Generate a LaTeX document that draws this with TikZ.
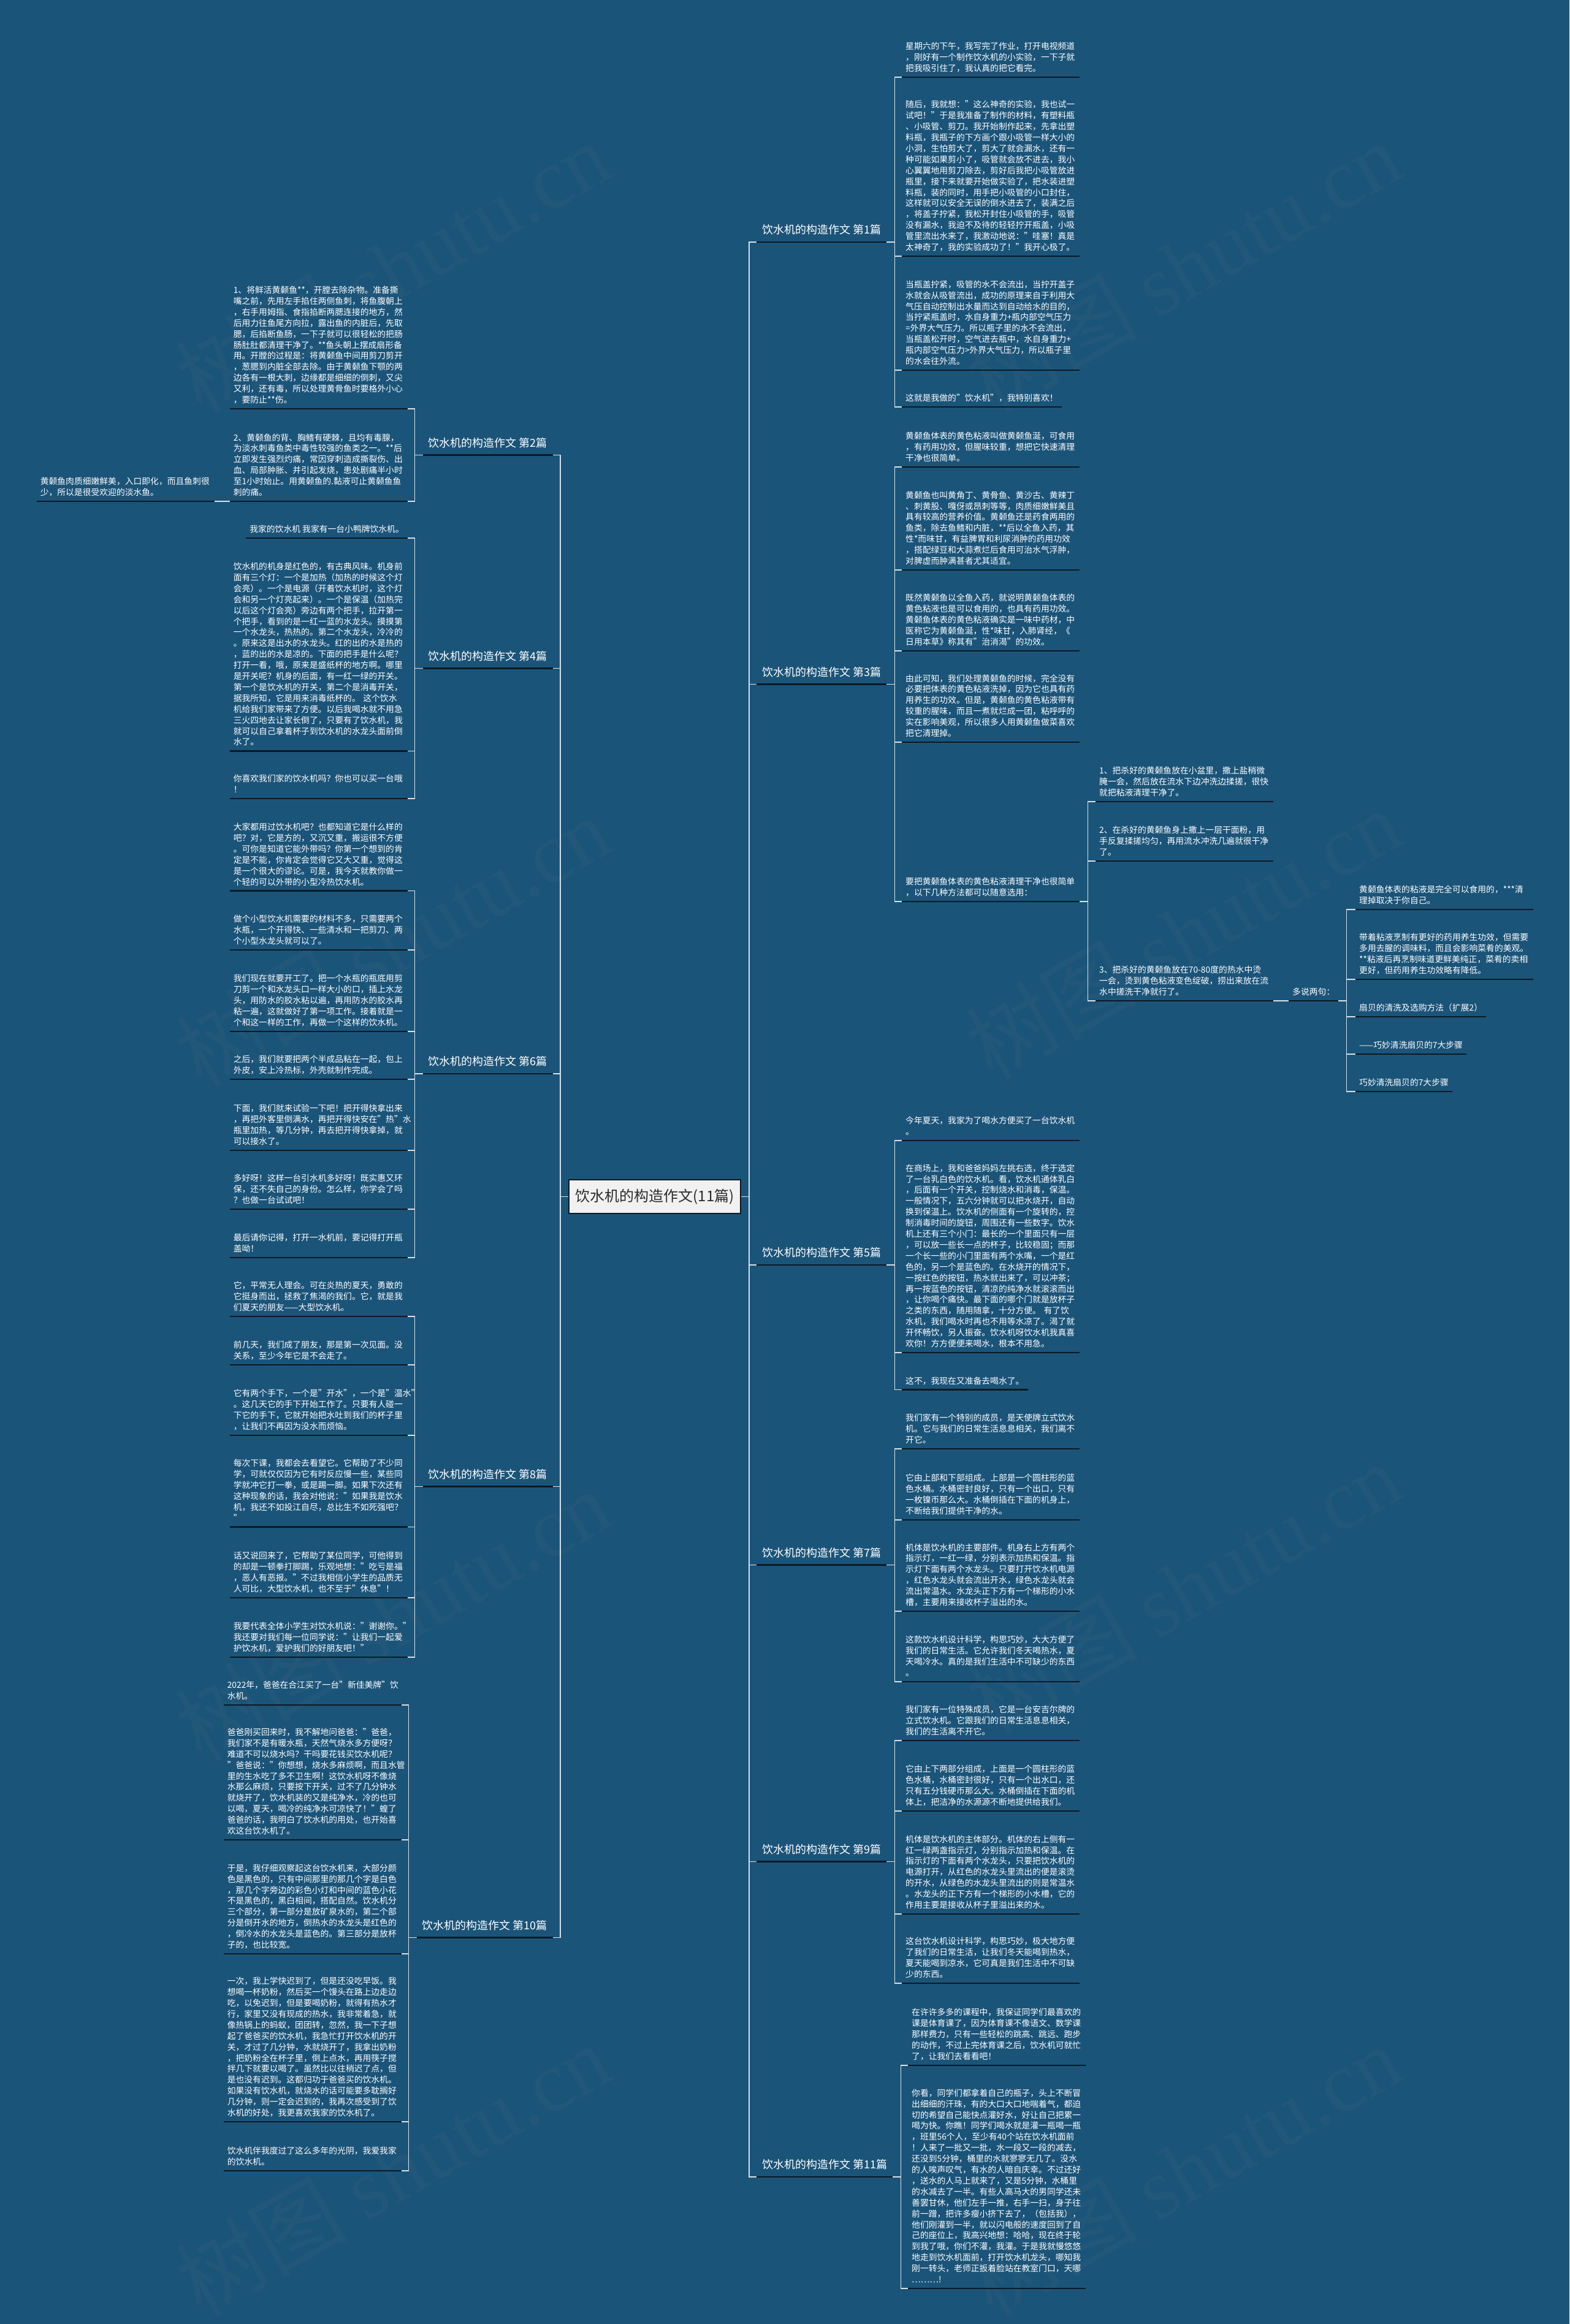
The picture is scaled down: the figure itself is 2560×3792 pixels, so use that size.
\documentclass[tikz,border=0pt]{standalone}
\usepackage{fontspec}
\setmainfont{Noto Sans CJK SC}
\newfontfamily\wmlatin{Liberation Serif}
\definecolor{bgc}{HTML}{1B5479}
\definecolor{connc}{HTML}{D5E1E9}
\definecolor{ulc}{HTML}{0B1A24}
\definecolor{titlefill}{HTML}{F1F1F1}
\definecolor{titletext}{HTML}{2B2B2B}
\newcommand\leaffont{\fontsize{13.8}{17.9}\selectfont}
\newcommand\labfont{\fontsize{18}{22}\selectfont}
\newcommand\titfont{\fontsize{24}{28}\selectfont}
\tikzset{
  leafbase/.style={inner xsep=6pt, inner ysep=3.9pt, font=\leaffont, text=white, execute at end node=\strut},
  leafR/.style={leafbase, anchor=south west, text width=278pt, align=left},
  leafRs/.style={leafbase, anchor=south west},
  leafL/.style={leafbase, anchor=south east, text width=278pt, align=left},
  leafLs/.style={leafbase, anchor=south east},
  labR/.style={inner xsep=9pt, inner ysep=6.56pt, font=\labfont, text=white, execute at end node=\strut, anchor=south west},
  labL/.style={labR, anchor=south east},
  titlebox/.style={draw=ulc, line width=1.6pt, fill=titlefill, text=titletext, font=\titfont, minimum width=280pt, minimum height=55pt, inner sep=0pt},
  conn/.style={draw=connc, line width=1.8pt},
  ulline/.style={draw=ulc, line width=2.6pt},
  wm/.style={font=\fontsize{140}{150}\selectfont, text=gray, opacity=0.08, rotate=30},
}
\begin{document}
\begin{tikzpicture}[x=1pt,y=-1pt]
\fill[bgc] (0,0) rectangle (2560,3792);
\useasboundingbox (0,0) rectangle (2560,3792);

% watermarks
\node[wm] (w1) at (640,435) {树图 {\wmlatin shutu.cn}};
\node[wm] (w2) at (1930,435) {树图 {\wmlatin shutu.cn}};
\node[wm] (w3) at (640,1535) {树图 {\wmlatin shutu.cn}};
\node[wm] (w4) at (1930,1523) {树图 {\wmlatin shutu.cn}};
\node[wm] (w5) at (640,2635) {树图 {\wmlatin shutu.cn}};
\node[wm] (w6) at (1930,2590) {树图 {\wmlatin shutu.cn}};
\node[wm] (w7) at (640,3540) {树图 {\wmlatin shutu.cn}};
\node[wm] (w8) at (1930,3540) {树图 {\wmlatin shutu.cn}};

% title
\node[titlebox] (T) at (1068,1952.5) {饮水机的构造作文(11篇)};

% right labels
\node[labR] (R1) at (1234,395) {饮水机的构造作文 第1篇};
\node[labR] (R3) at (1234,1116.5) {饮水机的构造作文 第3篇};
\node[labR] (R5) at (1234,2064) {饮水机的构造作文 第5篇};
\node[labR] (R7) at (1234,2553.5) {饮水机的构造作文 第7篇};
\node[labR] (R9) at (1234,3037.5) {饮水机的构造作文 第9篇};
\node[labR] (R11) at (1234,3552) {饮水机的构造作文 第11篇};
% left labels
\node[labL] (L2) at (902,742.5) {饮水机的构造作文 第2篇};
\node[labL] (L4) at (902,1090.5) {饮水机的构造作文 第4篇};
\node[labL] (L6) at (902,1752) {饮水机的构造作文 第6篇};
\node[labL] (L8) at (902,2425.5) {饮水机的构造作文 第8篇};
\node[labL] (L10) at (902,3161.5) {饮水机的构造作文 第10篇};

% ---- right leaves: 第1篇
\node[leafR] (r1a) at (1471,126) {星期六的下午，我写完了作业，打开电视频道\\，刚好有一个制作饮水机的小实验，一下子就\\把我吸引住了，我认真的把它看完。};
\node[leafR] (r1b) at (1471,418) {随后，我就想："这么神奇的实验，我也试一\\试吧！"于是我准备了制作的材料，有塑料瓶\\、小吸管、剪刀。我开始制作起来，先拿出塑\\料瓶，我瓶子的下方画个跟小吸管一样大小的\\小洞，生怕剪大了，剪大了就会漏水，还有一\\种可能如果剪小了，吸管就会放不进去，我小\\心翼翼地用剪刀除去，剪好后我把小吸管放进\\瓶里，接下来就要开始做实验了，把水装进塑\\料瓶，装的同时，用手把小吸管的小口封住，\\这样就可以安全无误的倒水进去了，装满之后\\，将盖子拧紧，我松开封住小吸管的手，吸管\\没有漏水，我迫不及待的轻轻拧开瓶盖，小吸\\管里流出水来了，我激动地说："哇塞！真是\\太神奇了，我的实验成功了！"我开心极了。};
\node[leafR] (r1c) at (1471,604) {当瓶盖拧紧，吸管的水不会流出，当拧开盖子\\水就会从吸管流出，成功的原理来自于利用大\\气压自动控制出水量而达到自动给水的目的，\\当拧紧瓶盖时，水自身重力+瓶内部空气压力\\{}=外界大气压力。所以瓶子里的水不会流出，\\当瓶盖松开时，空气进去瓶中，水自身重力+\\瓶内部空气压力>外界大气压力，所以瓶子里\\的水会往外流。};
\node[leafRs] (r1d) at (1471,664) {这就是我做的"饮水机"，我特别喜欢！};

% ---- 第3篇
\node[leafR] (r3a) at (1471,762) {黄颡鱼体表的黄色粘液叫做黄颡鱼涎，可食用\\，有药用功效，但腥味较重，想把它快速清理\\干净也很简单。};
\node[leafR] (r3b) at (1471,930) {黄颡鱼也叫黄角丁、黄骨鱼、黄沙古、黄辣丁\\、刺黄股、嘎伢或昂刺等等，肉质细嫩鲜美且\\具有较高的营养价值。黄颡鱼还是药食两用的\\鱼类，除去鱼鳍和内脏，**后以全鱼入药，其\\性*而味甘，有益脾胃和利尿消肿的药用功效\\，搭配绿豆和大蒜煮烂后食用可治水气浮肿，\\对脾虚而肿满甚者尤其适宜。};
\node[leafR] (r3c) at (1471,1062) {既然黄颡鱼以全鱼入药，就说明黄颡鱼体表的\\黄色粘液也是可以食用的，也具有药用功效。\\黄颡鱼体表的黄色粘液确实是一味中药材，中\\医称它为黄颡鱼涎，性*味甘，入肺肾经，《\\日用本草》称其有"治消渴"的功效。};
\node[leafR] (r3d) at (1471,1211) {由此可知，我们处理黄颡鱼的时候，完全没有\\必要把体表的黄色粘液洗掉，因为它也具有药\\用养生的功效。但是，黄颡鱼的黄色粘液带有\\较重的腥味，而且一煮就烂成一团，粘呼呼的\\实在影响美观，所以很多人用黄颡鱼做菜喜欢\\把它清理掉。};
\node[leafR] (r3e) at (1471,1471) {要把黄颡鱼体表的黄色粘液清理干净也很简单\\，以下几种方法都可以随意选用：};
\node[leafR] (s1) at (1787,1308) {1、把杀好的黄颡鱼放在小盆里，撒上盐稍微\\腌一会，然后放在流水下边冲洗边揉搓，很快\\就把粘液清理干净了。};
\node[leafR] (s2) at (1787,1405) {2、在杀好的黄颡鱼身上撒上一层干面粉，用\\手反复揉搓均匀，再用流水冲洗几遍就很干净\\了。};
\node[leafR] (s3) at (1787,1633) {3、把杀好的黄颡鱼放在70-80度的热水中烫\\一会，烫到黄色粘液变色绽破，捞出来放在流\\水中搓洗干净就行了。};
\node[leafRs] (ds) at (2102,1633) {多说两句：};
\node[leafR] (d1) at (2211,1484) {黄颡鱼体表的粘液是完全可以食用的，***清\\理掉取决于你自己。};
\node[leafR] (d2) at (2211,1598) {带着粘液烹制有更好的药用养生功效，但需要\\多用去腥的调味料，而且会影响菜肴的美观。\\{}**粘液后再烹制味道更鲜美纯正，菜肴的卖相\\更好，但药用养生功效略有降低。};
\node[leafRs] (d3) at (2211,1659) {扇贝的清洗及选购方法（扩展2）};
\node[leafRs] (d4) at (2211,1720) {——巧妙清洗扇贝的7大步骤};
\node[leafRs] (d5) at (2211,1781) {巧妙清洗扇贝的7大步骤};

% ---- 第5篇
\node[leafR] (r5a) at (1471,1861) {今年夏天，我家为了喝水方便买了一台饮水机\\。};
\node[leafR] (r5b) at (1471,2207) {在商场上，我和爸爸妈妈左挑右选，终于选定\\了一台乳白色的饮水机。看，饮水机通体乳白\\，后面有一个开关，控制烧水和消毒，保温。\\一般情况下，五六分钟就可以把水烧开，自动\\换到保温上。饮水机的侧面有一个旋转的，控\\制消毒时间的旋钮，周围还有一些数字。饮水\\机上还有三个小门：最长的一个里面只有一层\\，可以放一些长一点的杯子，比较稳固；而那\\一个长一些的小门里面有两个水嘴，一个是红\\色的，另一个是蓝色的。在水烧开的情况下，\\一按红色的按钮，热水就出来了，可以冲茶；\\再一按蓝色的按钮，清凉的纯净水就滚滚而出\\，让你喝个痛快。最下面的哪个门就是放杯子\\之类的东西，随用随拿，十分方便。 有了饮\\水机，我们喝水时再也不用等水凉了。渴了就\\开怀畅饮，另人振奋。饮水机呀饮水机我真喜\\欢你！方方便便来喝水，根本不用急。};
\node[leafRs] (r5c) at (1471,2267.5) {这不，我现在又准备去喝水了。};

% ---- 第7篇
\node[leafR] (r7a) at (1471,2364) {我们家有一个特别的成员，是天使牌立式饮水\\机。它与我们的日常生活息息相关，我们离不\\开它。};
\node[leafR] (r7b) at (1471,2480) {它由上部和下部组成。上部是一个圆柱形的蓝\\色水桶。水桶密封良好，只有一个出口，只有\\一枚镍币那么大。水桶倒插在下面的机身上，\\不断给我们提供干净的水。};
\node[leafR] (r7c) at (1471,2629) {机体是饮水机的主要部件。机身右上方有两个\\指示灯，一红一绿，分别表示加热和保温。指\\示灯下面有两个水龙头。只要打开饮水机电源\\，红色水龙头就会流出开水，绿色水龙头就会\\流出常温水。水龙头正下方有一个梯形的小水\\槽，主要用来接收杯子溢出的水。};
\node[leafR] (r7d) at (1471,2744) {这款饮水机设计科学，构思巧妙，大大方便了\\我们的日常生活。它允许我们冬天喝热水，夏\\天喝冷水。真的是我们生活中不可缺少的东西\\。};

% ---- 第9篇
\node[leafR] (r9a) at (1471,2840) {我们家有一位特殊成员，它是一台安吉尔牌的\\立式饮水机。它跟我们的日常生活息息相关，\\我们的生活离不开它。};
\node[leafR] (r9b) at (1471,2955) {它由上下两部分组成，上面是一个圆柱形的蓝\\色水桶，水桶密封很好，只有一个出水口，还\\只有五分钱硬币那么大。水桶倒插在下面的机\\体上，把洁净的水源源不断地提供给我们。};
\node[leafR] (r9c) at (1471,3123) {机体是饮水机的主体部分。机体的右上侧有一\\红一绿两盏指示灯，分别指示加热和保温。在\\指示灯的下面有两个水龙头，只要把饮水机的\\电源打开，从红色的水龙头里流出的便是滚烫\\的开水，从绿色的水龙头里流出的则是常温水\\。水龙头的正下方有一个梯形的小水槽，它的\\作用主要是接收从杯子里溢出来的水。};
\node[leafR] (r9d) at (1471,3236) {这台饮水机设计科学，构思巧妙，极大地方便\\了我们的日常生活，让我们冬天能喝到热水，\\夏天能喝到凉水，它可真是我们生活中不可缺\\少的东西。};

% ---- 第11篇
\node[leafR] (r11a) at (1481,3370) {在许许多多的课程中，我保证同学们最喜欢的\\课是体育课了，因为体育课不像语文、数学课\\那样费力，只有一些轻松的跳高、跳远、跑步\\的动作，不过上完体育课之后，饮水机可就忙\\了，让我们去看看吧！};
\node[leafR] (r11b) at (1481,3734) {你看，同学们都拿着自己的瓶子，头上不断冒\\出细细的汗珠，有的大口大口地喘着气，都迫\\切的希望自己能快点灌好水，好让自己把累一\\喝为快。你瞧！同学们喝水就是灌一瓶喝一瓶\\，班里56个人，至少有40个站在饮水机面前\\！人来了一批又一批，水一段又一段的减去，\\还没到5分钟，桶里的水就寥寥无几了。没水\\的人唉声叹气，有水的人暗自庆幸。不过还好\\，送水的人马上就来了，又是5分钟，水桶里\\的水减去了一半。有些人高马大的男同学还未\\善罢甘休，他们左手一推，右手一扫，身子往\\前一蹭，把许多瘦小挤下去了，（包括我），\\他们刚灌到一半，就以闪电般的速度回到了自\\己的座位上，我高兴地想：哈哈，现在终于轮\\到我了哦，你们不灌，我灌。于是我就慢悠悠\\地走到饮水机面前，打开饮水机龙头，哪知我\\刚一转头，老师正扳着脸站在教室门口，天哪\\………!};

% ---- left leaves: 第2篇
\node[leafL] (l2a) at (665,667) {1、将鲜活黄颡鱼**，开膛去除杂物。准备撕\\嘴之前，先用左手掐住两侧鱼刺，将鱼腹朝上\\，右手用姆指、食指掐断两腮连接的地方，然\\后用力往鱼尾方向拉，露出鱼的内脏后，先取\\腮，后掐断鱼肠，一下子就可以很轻松的把肠\\肠肚肚都清理干净了。**鱼头朝上摆成扇形备\\用。开膛的过程是：将黄颡鱼中间用剪刀剪开\\，葱腮到内脏全部去除。由于黄颡鱼下颚的两\\边各有一根大刺，边缘都是细细的倒刺，又尖\\又利，还有毒，所以处理黄骨鱼时要格外小心\\，要防止**伤。};
\node[leafL] (l2b) at (665,818) {2、黄颡鱼的背、胸鳍有硬棘，且均有毒腺，\\为淡水刺毒鱼类中毒性较强的鱼类之一。**后\\立即发生强烈灼痛，常因穿刺造成撕裂伤、出\\血、局部肿胀、并引起发烧，患处剧痛半小时\\至1小时始止。用黄颡鱼的.黏液可止黄颡鱼鱼\\刺的痛。};
\node[leafL] (l2x) at (350,818) {黄颡鱼肉质细嫩鲜美，入口即化，而且鱼刺很\\少，所以是很受欢迎的淡水鱼。};

% ---- 第4篇
\node[leafLs] (l4a) at (665,878) {我家的饮水机 我家有一台小鸭牌饮水机。};
\node[leafL] (l4b) at (665,1225.4) {饮水机的机身是红色的，有古典风味。机身前\\面有三个灯：一个是加热（加热的时候这个灯\\会亮）。一个是电源（开着饮水机时，这个灯\\会和另一个灯亮起来）。一个是保温（加热完\\以后这个灯会亮）旁边有两个把手，拉开第一\\个把手，看到的是一红一蓝的水龙头。摸摸第\\一个水龙头，热热的。第二个水龙头，冷冷的\\。原来这是出水的水龙头。红的出的水是热的\\，蓝的出的水是凉的。下面的把手是什么呢？\\打开一看，哦，原来是盛纸杯的地方啊。哪里\\是开关呢？机身的后面，有一红一绿的开关。\\第一个是饮水机的开关，第二个是消毒开关，\\据我所知，它是用来消毒纸杯的。 这个饮水\\机给我们家带来了方便。以后我喝水就不用急\\三火四地去让家长倒了，只要有了饮水机，我\\就可以自己拿着杯子到饮水机的水龙头面前倒\\水了。};
\node[leafL] (l4c) at (665,1303) {你喜欢我们家的饮水机吗？你也可以买一台哦\\！};

% ---- 第6篇
\node[leafL] (l6a) at (665,1453.5) {大家都用过饮水机吧？也都知道它是什么样的\\吧？对，它是方的，又沉又重，搬运很不方便\\。可你是知道它能外带吗？你第一个想到的肯\\定是不能，你肯定会觉得它又大又重，觉得这\\是一个很大的谬论。可是，我今天就教你做一\\个轻的可以外带的小型冷热饮水机。};
\node[leafL] (l6b) at (665,1550) {做个小型饮水机需要的材料不多，只需要两个\\水瓶，一个开得快、一些清水和一把剪刀、两\\个小型水龙头就可以了。};
\node[leafL] (l6c) at (665,1683) {我们现在就要开工了。把一个水瓶的瓶底用剪\\刀剪一个和水龙头口一样大小的口，插上水龙\\头，用防水的胶水粘以遍，再用防水的胶水再\\粘一遍，这就做好了第一项工作。接着就是一\\个和这一样的工作，再做一个这样的饮水机。};
\node[leafL] (l6d) at (665,1761) {之后，我们就要把两个半成品粘在一起，包上\\外皮，安上冷热标，外壳就制作完成。};
\node[leafL] (l6e) at (665,1877) {下面，我们就来试验一下吧！把开得快拿出来\\，再把外客里倒满水，再把开得快安在"热"水\\瓶里加热，等几分钟，再去把开得快拿掉，就\\可以接水了。};
\node[leafL] (l6f) at (665,1973) {多好呀！这样一台引水机多好呀！既实惠又环\\保，还不失自己的身份。怎么样，你学会了吗\\？也做一台试试吧！};
\node[leafL] (l6g) at (665,2052) {最后请你记得，打开一水机前，要记得打开瓶\\盖呦！};

% ---- 第8篇
\node[leafL] (l8a) at (665,2148) {它，平常无人理会。可在炎热的夏天，勇敢的\\它挺身而出，拯救了焦渴的我们。它，就是我\\们夏天的朋友——大型饮水机。};
\node[leafL] (l8b) at (665,2227) {前几天，我们成了朋友，那是第一次见面。没\\关系，至少今年它是不会走了。};
\node[leafL] (l8c) at (665,2342) {它有两个手下，一个是"开水"，一个是"温水"\\。这几天它的手下开始工作了。只要有人碰一\\下它的手下，它就开始把水吐到我们的杯子里\\，让我们不再因为没水而烦恼。};
\node[leafL] (l8d) at (665,2491.5) {每次下课，我都会去看望它。它帮助了不少同\\学，可就仅仅因为它有时反应慢一些，某些同\\学就冲它打一拳，或是踢一脚。如果下次还有\\这种现象的话，我会对他说："如果我是饮水\\机，我还不如投江自尽，总比生不如死强吧？\\"};
\node[leafL] (l8e) at (665,2607) {话又说回来了，它帮助了某位同学，可他得到\\的却是一顿拳打脚踢，乐观地想："吃亏是福\\，恶人有恶报。"不过我相信小学生的品质无\\人可比，大型饮水机，也不至于"休息"！};
\node[leafL] (l8f) at (665,2704) {我要代表全体小学生对饮水机说："谢谢你。"\\我还要对我们每一位同学说："让我们一起爱\\护饮水机，爱护我们的好朋友吧！"};

% ---- 第10篇
\node[leafL] (l10a) at (655,2782) {2022年，爸爸在合江买了一台"新佳美牌"饮\\水机。};
\node[leafL] (l10b) at (655,3002) {爸爸刚买回来时，我不解地问爸爸："爸爸，\\我们家不是有暖水瓶，天然气烧水多方便呀？\\难道不可以烧水吗？干吗要花钱买饮水机呢？\\"爸爸说："你想想，烧水多麻烦啊，而且水管\\里的生水吃了多不卫生啊！这饮水机呀不像烧\\水那么麻烦，只要按下开关，过不了几分钟水\\就烧开了，饮水机装的又是纯净水，冷的也可\\以喝，夏天，喝冷的纯净水可凉快了！"蝗了\\爸爸的话，我明白了饮水机的用处，也开始喜\\欢这台饮水机了。};
\node[leafL] (l10c) at (655,3188) {于是，我仔细观察起这台饮水机来，大部分颜\\色是黑色的，只有中间那里的那几个字是白色\\，那几个字旁边的彩色小灯和中间的蓝色小花\\不是黑色的，黑白相间，搭配自然。饮水机分\\三个部分，第一部分是放矿泉水的，第二个部\\分是倒开水的地方，倒热水的水龙头是红色的\\，倒冷水的水龙头是蓝色的。第三部分是放杯\\子的，也比较宽。};
\node[leafL] (l10d) at (655,3462) {一次，我上学快迟到了，但是还没吃早饭。我\\想喝一杯奶粉，然后买一个馒头在路上边走边\\吃，以免迟到，但是要喝奶粉，就得有热水才\\行，家里又没有现成的热水，我非常着急，就\\像热锅上的蚂蚁，团团转，忽然，我一下子想\\起了爸爸买的饮水机，我急忙打开饮水机的开\\关，才过了几分钟，水就烧开了，我拿出奶粉\\，把奶粉全在杯子里，倒上点水，再用筷子搅\\拌几下就要以喝了。虽然比以往稍迟了点，但\\是也没有迟到。这都归功于爸爸买的饮水机。\\如果没有饮水机，就烧水的话可能要多耽搁好\\几分钟，则一定会迟到的，我再次感受到了饮\\水机的好处，我更喜欢我家的饮水机了。};
\node[leafL] (l10e) at (655,3542) {饮水机伴我度过了这么多年的光阴，我爱我家\\的饮水机。};

% ---- connectors
\foreach \c in {R1,R3,R5,R7,R9,R11}
  \draw[conn] (T.east) -- ++(13,0) |- (\c.south west);
\foreach \c in {L2,L4,L6,L8,L10}
  \draw[conn] (T.west) -- ++(-13,0) |- (\c.south east);
\foreach \p/\c in {R1/r1a,R1/r1b,R1/r1c,R1/r1d,
                   R3/r3a,R3/r3b,R3/r3c,R3/r3d,R3/r3e,
                   r3e/s1,r3e/s2,r3e/s3,
                   ds/d1,ds/d2,ds/d3,ds/d4,ds/d5,
                   R5/r5a,R5/r5b,R5/r5c,
                   R7/r7a,R7/r7b,R7/r7c,R7/r7d,
                   R9/r9a,R9/r9b,R9/r9c,R9/r9d,
                   R11/r11a,R11/r11b}
  \draw[conn] (\p.south east) -- ++(13,0) |- (\c.south west);
\draw[conn] (s3.south east) -- (ds.south west);
\foreach \p/\c in {L2/l2a,L2/l2b,
                   L4/l4a,L4/l4b,L4/l4c,
                   L6/l6a,L6/l6b,L6/l6c,L6/l6d,L6/l6e,L6/l6f,L6/l6g,
                   L8/l8a,L8/l8b,L8/l8c,L8/l8d,L8/l8e,L8/l8f,
                   L10/l10a,L10/l10b,L10/l10c,L10/l10d,L10/l10e}
  \draw[conn] (\p.south west) -- ++(-13,0) |- (\c.south east);
\draw[conn] (l2b.south west) -- (l2x.south east);

% ---- underlines
\foreach \n in {R1,R3,R5,R7,R9,R11,L2,L4,L6,L8,L10,
                r1a,r1b,r1c,r1d,r3a,r3b,r3c,r3d,r3e,s1,s2,s3,ds,d1,d2,d3,d4,d5,
                r5a,r5b,r5c,r7a,r7b,r7c,r7d,r9a,r9b,r9c,r9d,r11a,r11b,
                l2a,l2b,l2x,l4a,l4b,l4c,l6a,l6b,l6c,l6d,l6e,l6f,l6g,
                l8a,l8b,l8c,l8d,l8e,l8f,l10a,l10b,l10c,l10d,l10e}
  \draw[ulline] (\n.south west) -- (\n.south east);
\end{tikzpicture}
\end{document}
